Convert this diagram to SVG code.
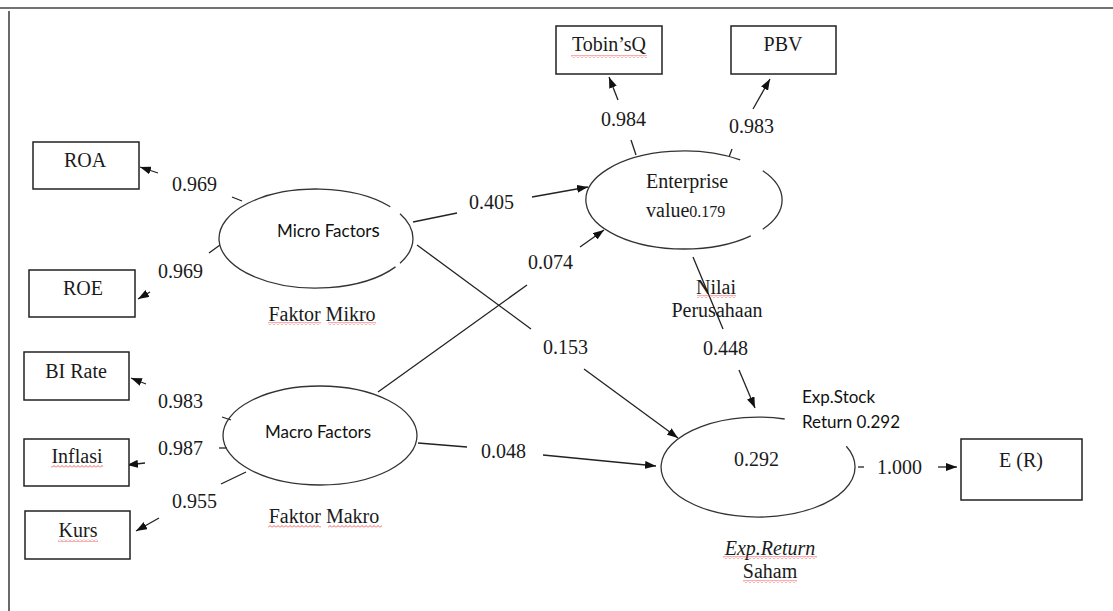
<svg xmlns="http://www.w3.org/2000/svg" width="1113" height="611" viewBox="0 0 1113 611">
<style>
.frame{stroke:#444;stroke-width:1.6;fill:none}
.box{fill:#fff;stroke:#222;stroke-width:1.5}
.ell{fill:none;stroke:#333;stroke-width:1.3}
.ln{stroke:#222;stroke-width:1.3;fill:none}
.arr{stroke:#222;stroke-width:1.3;fill:none;marker-end:url(#ah)}
.ser{font-family:"Liberation Serif","Times New Roman",serif;font-size:20px;fill:#1a1a1a}
.num{font-family:"Liberation Serif","Times New Roman",serif;font-size:20px;fill:#1a1a1a}
.sans{font-family:Lato,"Open Sans",sans-serif;font-size:17px;fill:#111}
.mid{text-anchor:middle}
.sq{fill:url(#wave)}
</style>
<defs>
<marker id="ah" markerUnits="userSpaceOnUse" markerWidth="11" markerHeight="8" refX="11" refY="4" orient="auto">
<path d="M0,0 L11,4 L0,8 z" fill="#111"/>
</marker>
<pattern id="wave" patternUnits="userSpaceOnUse" width="4" height="3">
<path d="M0,2.5 L2,0.5 L4,2.5" stroke="#e33" stroke-width="0.8" fill="none"/>
</pattern>
</defs>

<g id="frame">
<line class="frame" x1="0" y1="8" x2="1113" y2="8"/>
<line class="frame" x1="9" y1="11" x2="9" y2="611"/>
</g>

<g id="connectors">
<line class="ln" x1="242" y1="201" x2="232" y2="197"/>
<line class="arr" x1="158" y1="173" x2="140" y2="167"/>
<line class="ln" x1="220" y1="245" x2="209" y2="253"/>
<line class="arr" x1="150" y1="292" x2="138" y2="299"/>
<line class="ln" x1="413" y1="222" x2="457" y2="213"/>
<line class="arr" x1="532" y1="197" x2="588" y2="187"/>
<line class="ln" x1="417" y1="245" x2="531" y2="329"/>
<line class="arr" x1="584" y1="369" x2="678" y2="438"/>
<line class="ln" x1="378" y1="392" x2="527" y2="285"/>
<line class="arr" x1="580" y1="247" x2="604" y2="230"/>
<line class="ln" x1="418" y1="443" x2="467" y2="447"/>
<line class="arr" x1="543" y1="455" x2="656" y2="466"/>
<line class="ln" x1="693" y1="257" x2="723" y2="329"/>
<line class="arr" x1="739" y1="370" x2="755" y2="408"/>
<line class="ln" x1="636" y1="155" x2="631" y2="140"/>
<line class="arr" x1="618" y1="100" x2="609" y2="77"/>
<line class="ln" x1="729" y1="157" x2="732" y2="149"/>
<line class="arr" x1="753" y1="109" x2="770" y2="79"/>
<line class="ln" x1="231" y1="420" x2="222" y2="417"/>
<line class="arr" x1="146" y1="384" x2="131" y2="378"/>
<line class="ln" x1="227" y1="448" x2="219" y2="448"/>
<line class="arr" x1="145" y1="463" x2="127" y2="465"/>
<line class="ln" x1="246" y1="472" x2="221" y2="484"/>
<line class="arr" x1="159" y1="518" x2="136" y2="531"/>
<line class="ln" x1="858" y1="467" x2="864" y2="467"/>
<line class="arr" x1="938" y1="467" x2="957" y2="467"/>
<text class="num" x="172" y="191">0.969</text>
<text class="num" x="158" y="278">0.969</text>
<text class="num" x="469" y="209">0.405</text>
<text class="num" x="528" y="269">0.074</text>
<text class="num" x="601" y="126">0.984</text>
<text class="num" x="729" y="133">0.983</text>
<text class="num" x="543" y="354">0.153</text>
<text class="num" x="703" y="355">0.448</text>
<text class="num" x="481" y="458">0.048</text>
<text class="num" x="158" y="408">0.983</text>
<text class="num" x="158" y="455">0.987</text>
<text class="num" x="172" y="508">0.955</text>
<text class="num" x="877" y="474">1.000</text>
</g>

<g id="ROA">
<rect class="box" x="33" y="142" width="106" height="47"/>
<text class="ser mid" x="85" y="167">ROA</text>
</g>
<g id="ROE">
<rect class="box" x="29" y="270" width="106" height="47"/>
<text class="ser mid" x="83" y="295">ROE</text>
</g>
<g id="BIRate">
<rect class="box" x="24" y="352" width="105" height="48"/>
<text class="ser mid" x="76" y="378">BI Rate</text>
</g>
<g id="Inflasi">
<rect class="box" x="24" y="439" width="105" height="47"/>
<text class="ser mid" x="77" y="463">Inflasi</text>
<rect class="sq" x="51" y="465" width="52" height="3"/>
</g>
<g id="Kurs">
<rect class="box" x="25" y="511" width="105" height="48"/>
<text class="ser mid" x="78" y="537">Kurs</text>
<rect class="sq" x="58" y="539" width="40" height="3"/>
</g>
<g id="TobinsQ">
<rect class="box" x="556" y="26" width="106" height="48"/>
<text class="ser mid" x="609" y="51">Tobin’sQ</text>
<rect class="sq" x="571" y="55" width="76" height="3"/>
</g>
<g id="PBV">
<rect class="box" x="731" y="26" width="105" height="48"/>
<text class="ser mid" x="783" y="51">PBV</text>
</g>
<g id="ER">
<rect class="box" x="961" y="439" width="121" height="61"/>
<text class="ser mid" x="1021" y="467">E (R)</text>
</g>

<g id="MicroFactors">
<path class="ell" d="M400,213.75 A97,49.5 0 0 1 400,263.25 M395.5,266.9 A97,49.5 0 1 1 390.3,206.7"/>
<text class="sans" x="277" y="237">Micro Factor<tspan font-size="19">s</tspan></text>
<text class="ser mid" x="322" y="321">Faktor Mikro</text>
<rect class="sq" x="268" y="322" width="53" height="3"/>
<rect class="sq" x="328" y="322" width="48" height="3"/>
</g>

<g id="MacroFactors">
<ellipse class="ell" cx="320" cy="435.5" rx="97" ry="49.5"/>
<text class="sans" x="265" y="438">Macro Factors</text>
<text class="ser mid" x="324" y="523">Faktor Makro</text>
<rect class="sq" x="268" y="525" width="53" height="3"/>
<rect class="sq" x="328" y="525" width="54" height="3"/>
</g>

<g id="EnterpriseValue">
<path class="ell" d="M762.8,170.8 A98,49 0 0 1 762.8,229.2 M750.8,235.8 A98,49 0 1 1 740.2,159.9"/>
<text class="ser" x="646" y="188">Enterprise</text>
<text class="ser" x="646" y="217">value<tspan font-size="16">0.179</tspan></text>
<text class="ser mid" x="716" y="294">Nilai</text>
<rect class="sq" x="697" y="295" width="39" height="3"/>
<text class="ser mid" x="717" y="317">Perusahaan</text>
</g>

<g id="ExpReturn">
<path class="ell" d="M846.3,446.3 A97,50 0 1 1 784.7,419"/>
<text class="num" x="734" y="466">0.292</text>
<text class="sans" x="802" y="403">Exp.Stock</text>
<text class="sans" x="802" y="428">Return 0.292</text>
<text class="ser mid" x="770" y="555" font-style="italic">Exp.Return</text>
<rect class="sq" x="723" y="556" width="94" height="3"/>
<text class="ser mid" x="770" y="578">Saham</text>
<rect class="sq" x="743" y="580" width="54" height="3"/>
</g>
</svg>
